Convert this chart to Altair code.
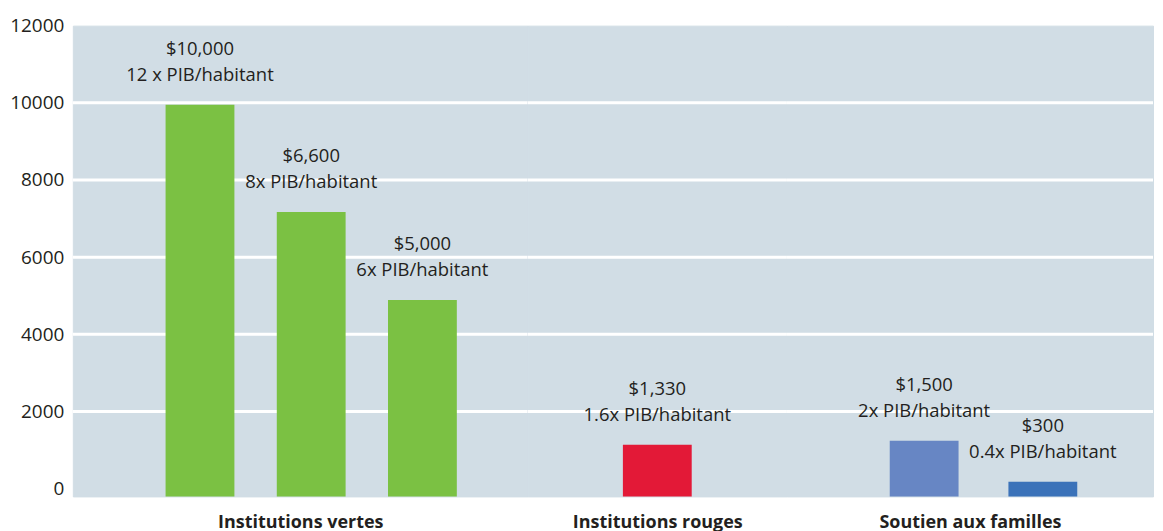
import altair as alt
import pandas as pd

# ---- data ----
groups = ["Institutions vertes", "Institutions vertes", "Institutions vertes",
          "Institutions rouges", "Soutien aux familles", "Soutien aux familles"]
bar_ids = ["v1", "v2", "v3", "r1", "s1", "s2"]
values = [9950, 7170, 4890, 1140, 1240, 180]
amounts = ["$10,000", "$6,600", "$5,000", "$1,330", "$1,500", "$300"]
ratios = ["12 x PIB/habitant", "8x PIB/habitant", "6x PIB/habitant",
          "1.6x PIB/habitant", "2x PIB/habitant", "0.4x PIB/habitant"]
colors = ["#7bc143", "#7bc143", "#7bc143", "#e31937", "#6786c4", "#3b72b9"]
grid_values = [2000, 4000, 6000, 8000, 10000]
y_tick_values = [0, 2000, 4000, 6000, 8000, 10000, 12000]

df = pd.DataFrame({
    "group": groups,
    "bar": bar_ids,
    "value": values,
    "label": [a + "\n" + r for a, r in zip(amounts, ratios)],
    "color": colors,
})
grid_df = pd.DataFrame({"g": grid_values})

FONT = "Open Sans"
TXT = "#231f20"
BG = "#d1dde5"
yscale = alt.Scale(domain=[-200, 12000], nice=False, zero=False)


def panel(name, width, pad_outer, align, first):
    sub = df[df["group"] == name]
    if first:
        yaxis = alt.Axis(values=y_tick_values, format="d", grid=False, ticks=False,
                         domain=False, labelFont=FONT, labelFontSize=19,
                         labelColor=TXT, labelPadding=9, labelFlush=False, title=None)
    else:
        yaxis = None
    xenc = alt.X("bar:N", sort=None,
                 scale=alt.Scale(paddingInner=0, paddingOuter=pad_outer, align=align),
                 axis=alt.Axis(title=name, labels=False, ticks=False, domain=False,
                               titlePadding=17, titleFont=FONT, titleFontSize=18,
                               titleFontWeight="bold", titleColor=TXT))
    grid = alt.Chart(grid_df).mark_rule(color="white", strokeWidth=3).encode(
        y=alt.Y("g:Q", scale=yscale, axis=yaxis))
    bars = alt.Chart(sub).mark_bar(size=69).encode(
        x=xenc,
        y=alt.Y("value:Q", scale=yscale, axis=yaxis),
        y2=alt.datum(-200),
        color=alt.Color("color:N", scale=None),
    )
    text = alt.Chart(sub).mark_text(
        font=FONT, fontSize=18.5, color=TXT, align="center", baseline="bottom",
        dy=-46, lineBreak="\n", lineHeight=26,
    ).encode(
        x=xenc,
        y=alt.Y("value:Q", scale=yscale, axis=yaxis),
        text="label:N",
    )
    return alt.layer(grid, bars, text).properties(width=width, height=472)


chart = alt.hconcat(
    panel("Institutions vertes", 456, 0.5448, 0.5905, True),
    panel("Institutions rouges", 260, 0.5, 0.5, False),
    panel("Soutien aux familles", 367, 0.542, 0.605, False),
    spacing=0, bounds="flush",
).properties(
    padding={"left": 1, "top": 7, "right": 0, "bottom": 5},
).configure_view(fill=BG, stroke=BG, strokeWidth=1)

chart.save("out.html", embed_options={"renderer": "svg", "actions": False})
